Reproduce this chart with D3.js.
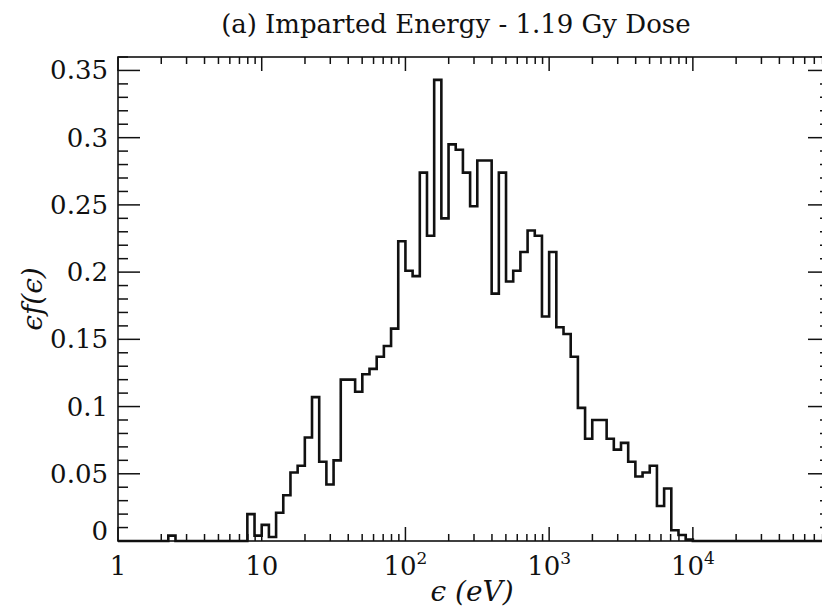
<!DOCTYPE html>
<html>
<head>
<meta charset="utf-8">
<script src="https://cdn.jsdelivr.net/npm/d3@7/dist/d3.min.js"></script>
<style>
  html, body { margin: 0; padding: 0; background: #fff; }
  svg { display: block; }
  text { font-family: "DejaVu Serif", "Liberation Serif", serif; fill: #111; }
</style>
</head>
<body>
<svg id="chart" width="822" height="615"></svg>
<script>
// ---- data ----
const titleTag = "(a)";
const titleText = "Imparted Energy - 1.19 Gy Dose";
const xLabel = "\u03F5 (eV)";
const yLabel = "\u03F5f(\u03F5)";
const binsPerDecade = 20;          // log-spaced bins, edge k = 10^(k/20)
// εf(ε) per bin, bin k = 0 .. 99
const binValues = [
  0, 0, 0, 0, 0, 0, 0, 0.004, 0, 0,
  0, 0, 0, 0, 0, 0, 0, 0, 0.020, 0.004,
  0.012, 0.003, 0.021, 0.034, 0.051, 0.056, 0.077, 0.107, 0.059, 0.042,
  0.060, 0.120, 0.120, 0.111, 0.124, 0.128, 0.137, 0.145, 0.158, 0.223,
  0.201, 0.197, 0.274, 0.227, 0.343, 0.240, 0.295, 0.291, 0.274, 0.249,
  0.283, 0.283, 0.184, 0.274, 0.193, 0.201, 0.215, 0.231, 0.227, 0.167,
  0.215, 0.159, 0.154, 0.137, 0.099, 0.076, 0.090, 0.090, 0.076, 0.068,
  0.073, 0.059, 0.048, 0.051, 0.056, 0.026, 0.039, 0.008, 0.0045, 0.001,
  0, 0, 0, 0, 0, 0, 0, 0, 0, 0,
  0, 0, 0, 0, 0, 0, 0, 0, 0, 0
];
const xDomain = [1, 90000];
const yDomain = [0, 0.36];
const xMajorTicks = [1, 10, 100, 1000, 10000];
const xTickLabels = [["1", ""], ["10", ""], ["10", "2"], ["10", "3"], ["10", "4"]];
const yMajorTicks = [0, 0.05, 0.1, 0.15, 0.2, 0.25, 0.3, 0.35];
const yTickLabels = ["0", "0.05", "0.1", "0.15", "0.2", "0.25", "0.3", "0.35"];

// ---- layout ----
const L = 118, R = 830, T = 57, B = 541;
const svg = d3.select("#chart");
const x = d3.scaleLog().domain(xDomain).range([L, R]);
const y = d3.scaleLinear().domain(yDomain).range([B, T]);

// minor ticks
const xMinor = [];
for (let e = 0; e <= 4; e++) for (let m = 2; m <= 9; m++) {
  const v = m * Math.pow(10, e);
  if (v < xDomain[1]) xMinor.push(v);
}
const yMinor = d3.range(0, 37).map(i => i / 100).filter(v => Math.abs(v * 20 - Math.round(v * 20)) > 1e-6);

const g = svg.append("g");
const tickStyle = sel => sel.attr("stroke", "#111").attr("stroke-width", 1.5);

// bottom / top ticks
[[B, -1], [T, 1]].forEach(([yy, dir]) => {
  g.selectAll(null).data(xMajorTicks).enter().append("line")
    .attr("x1", d => x(d)).attr("x2", d => x(d))
    .attr("y1", yy).attr("y2", yy + dir * 14).call(tickStyle);
  g.selectAll(null).data(xMinor).enter().append("line")
    .attr("x1", d => x(d)).attr("x2", d => x(d))
    .attr("y1", yy).attr("y2", yy + dir * 7).call(tickStyle);
});
// left / right ticks
[[L, 1], [R, -1]].forEach(([xx, dir]) => {
  g.selectAll(null).data(yMajorTicks).enter().append("line")
    .attr("y1", d => y(d)).attr("y2", d => y(d))
    .attr("x1", xx).attr("x2", xx + dir * 22).call(tickStyle);
  g.selectAll(null).data(yMinor).enter().append("line")
    .attr("y1", d => y(d)).attr("y2", d => y(d))
    .attr("x1", xx).attr("x2", xx + dir * 10).call(tickStyle);
});

// histogram step path
const clip = svg.append("clipPath").attr("id", "clip").append("rect")
  .attr("x", L).attr("y", T - 5).attr("width", R - L).attr("height", B - T + 10);
const pts = [[x(xDomain[0]), y(0)]];
binValues.forEach((v, k) => {
  const x0 = Math.pow(10, k / binsPerDecade), x1 = Math.pow(10, (k + 1) / binsPerDecade);
  pts.push([x(x0), y(v)]);
  pts.push([x(x1), y(v)]);
});
pts.push([x(Math.pow(10, binValues.length / binsPerDecade)), y(0)]);
svg.append("path")
  .attr("clip-path", "url(#clip)")
  .attr("d", d3.line()(pts))
  .attr("fill", "none").attr("stroke", "#111").attr("stroke-width", 2.6)
  .attr("stroke-linejoin", "miter");

// frame
svg.append("rect").attr("x", L).attr("y", T).attr("width", R - L).attr("height", B - T)
  .attr("fill", "none").attr("stroke", "#111").attr("stroke-width", 1.6);

// y tick labels
svg.selectAll(null).data(yMajorTicks).enter().append("text")
  .attr("x", L - 10)
  .attr("y", (d, i) => d === 0 ? y(d) - 1 : y(d) + 9)
  .attr("text-anchor", "end").attr("font-size", 26)
  .text((d, i) => yTickLabels[i]);

// x tick labels
const xl = svg.selectAll(null).data(xMajorTicks).enter().append("text")
  .attr("x", d => x(d)).attr("y", 575)
  .attr("text-anchor", "middle").attr("font-size", 26);
xl.append("tspan").text((d, i) => xTickLabels[i][0]);
xl.append("tspan").attr("dy", -11).attr("font-size", 17).text((d, i) => xTickLabels[i][1]);

// title
svg.append("text").attr("x", 257).attr("y", 33).attr("text-anchor", "end")
  .attr("font-size", 26).text(titleTag);
svg.append("text").attr("x", 265).attr("y", 33).attr("text-anchor", "start")
  .attr("font-size", 26).text(titleText);

// axis labels
svg.append("text").attr("x", (L + R) / 2 - 2).attr("y", 601)
  .attr("text-anchor", "middle").attr("font-size", 28).attr("font-style", "italic")
  .text(xLabel);
svg.append("text").attr("transform", `translate(42,${(T + B) / 2}) rotate(-90)`)
  .attr("text-anchor", "middle").attr("font-size", 28).attr("font-style", "italic")
  .text(yLabel);
</script>
</body>
</html>
